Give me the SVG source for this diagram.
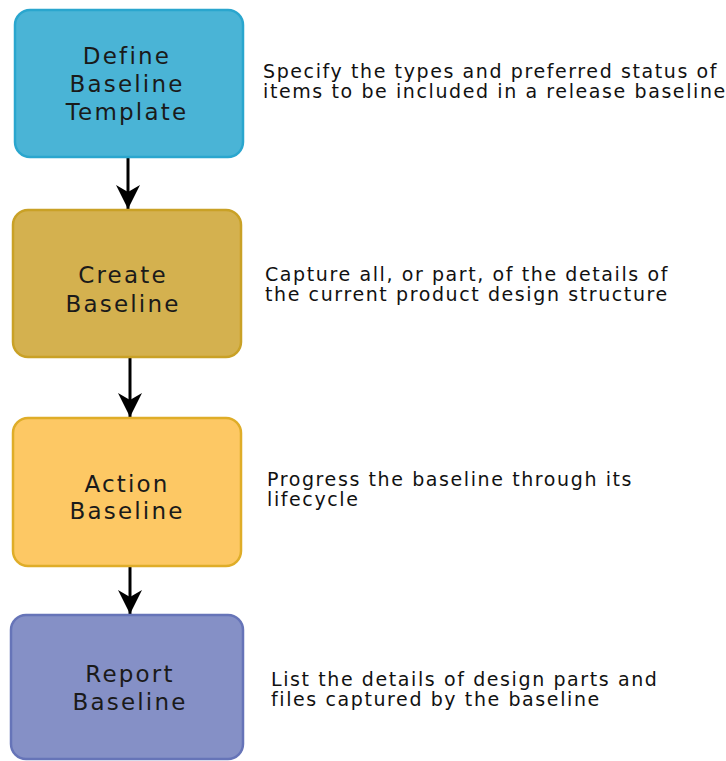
<svg xmlns="http://www.w3.org/2000/svg" width="726" height="761" viewBox="0 0 726 761">
<style>
.box{stroke-width:2.5}
.lbl{font-family:"DejaVu Sans",Verdana,sans-serif;font-size:23px;letter-spacing:2.2px;fill:#1a1a1a;text-anchor:middle}
.desc{font-family:"DejaVu Sans",Verdana,sans-serif;font-size:19px;letter-spacing:1.6px;fill:#111}
.conn{stroke:#000;stroke-width:3;fill:none}
</style>
<defs>
<marker id="ah" markerUnits="userSpaceOnUse" markerWidth="26" markerHeight="26" viewBox="-25 -13 26 26" refX="0" refY="0" orient="auto">
<path d="M0,0 L-24,-12 L-17,0 L-24,12 Z" fill="#000"/>
</marker>
</defs>
<rect width="726" height="761" fill="#fff"/>
<g id="connectors">
<line class="conn" x1="128" y1="157" x2="128" y2="209" marker-end="url(#ah)"/>
<line class="conn" x1="130" y1="357" x2="130" y2="417" marker-end="url(#ah)"/>
<line class="conn" x1="130" y1="566" x2="130" y2="614" marker-end="url(#ah)"/>
</g>
<g id="define">
<rect class="box" x="15" y="10" width="228" height="147" rx="15" fill="#4AB4D6" stroke="#2AA6CE"/>
<text class="lbl" x="127" y="64">Define</text>
<text class="lbl" x="127" y="92">Baseline</text>
<text class="lbl" x="127" y="120">Template</text>
</g>
<g id="create">
<rect class="box" x="13" y="210" width="228" height="147" rx="15" fill="#D4B14F" stroke="#C9A126"/>
<text class="lbl" x="123" y="283">Create</text>
<text class="lbl" x="123" y="312">Baseline</text>
</g>
<g id="action">
<rect class="box" x="13" y="418" width="228" height="148" rx="15" fill="#FDC864" stroke="#DFAD28"/>
<text class="lbl" x="127" y="492">Action</text>
<text class="lbl" x="127" y="519">Baseline</text>
</g>
<g id="report">
<rect class="box" x="11" y="615" width="232" height="144" rx="15" fill="#8590C6" stroke="#6674B8"/>
<text class="lbl" x="130" y="682">Report</text>
<text class="lbl" x="130" y="710">Baseline</text>
</g>
<g id="descriptions">
<text class="desc" x="263" y="78">Specify the types and preferred status of</text>
<text class="desc" x="263" y="98">items to be included in a release baseline</text>
<text class="desc" x="265" y="281">Capture all, or part, of the details of</text>
<text class="desc" x="265" y="301">the current product design structure</text>
<text class="desc" x="267" y="486">Progress the baseline through its</text>
<text class="desc" x="267" y="506">lifecycle</text>
<text class="desc" x="271" y="686">List the details of design parts and</text>
<text class="desc" x="271" y="706">files captured by the baseline</text>
</g>
</svg>
